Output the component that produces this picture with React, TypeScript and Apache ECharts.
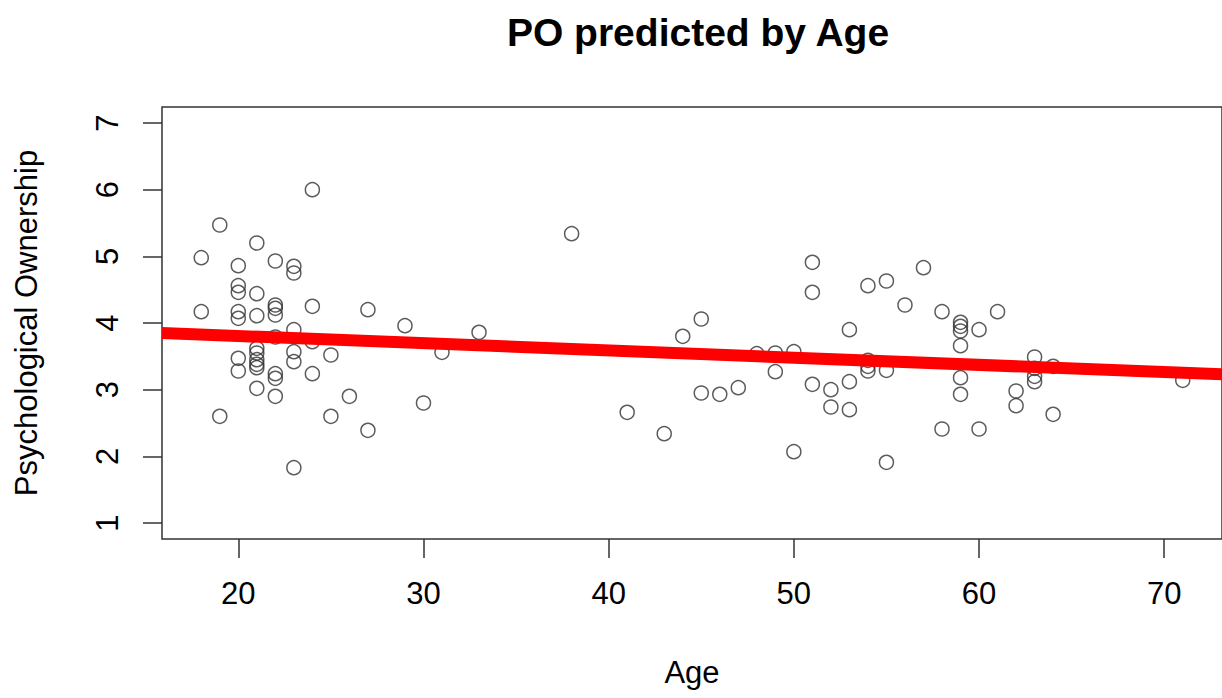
import React, { useEffect, useRef } from "react";
import * as echarts from "echarts";

const ages = [
  18, 18,
  19, 19,
  20, 20, 20, 20, 20, 20, 20,
  21, 21, 21, 21, 21, 21, 21, 21, 21,
  22, 22, 22, 22, 22, 22, 22, 22,
  23, 23, 23, 23, 23, 23,
  24, 24, 24, 24,
  25, 25,
  26,
  27, 27,
  29, 30, 31, 33, 38, 41, 43, 44,
  45, 45,
  46, 47, 48,
  49, 49,
  50, 50,
  51, 51, 51,
  52, 52,
  53, 53, 53,
  54, 54, 54, 54,
  55, 55, 55,
  56, 57,
  58, 58,
  59, 59, 59, 59, 59, 59,
  60, 60,
  61,
  62, 62,
  63, 63, 63, 63,
  64, 64,
  71,
];

const scores = [
  4.98, 4.17,
  5.47, 2.6,
  4.86, 4.56, 4.46, 4.17, 4.07, 3.47, 3.28,
  5.2, 4.44, 4.11, 3.62, 3.55, 3.45, 3.38, 3.33, 3.02,
  4.93, 4.27, 4.22, 4.12, 3.79, 3.24, 3.17, 2.9,
  4.85, 4.75, 3.9, 3.57, 3.42, 1.83,
  6.0, 4.25, 3.72, 3.24,
  3.52, 2.6,
  2.9,
  4.2, 2.39,
  3.96, 2.8, 3.56, 3.86, 5.34, 2.66, 2.34, 3.8,
  4.06, 2.95,
  2.93, 3.03, 3.54,
  3.55, 3.27,
  3.57, 2.07,
  4.91, 4.46, 3.08,
  3.0, 2.74,
  3.9, 3.12, 2.7,
  4.56, 3.44, 3.35, 3.28,
  4.63, 3.29, 1.91,
  4.27, 4.83,
  4.17, 2.41,
  4.01, 3.95, 3.88, 3.66, 3.18, 2.93,
  3.9, 2.41,
  4.17,
  2.98, 2.76,
  3.49, 3.32, 3.2, 3.12,
  3.35, 2.63,
  3.14,
];

const fitAges = [15.88, 73.12];
const fitScores = [3.85, 3.23];

const xTicks = [20, 30, 40, 50, 60, 70];
const yTicks = [1, 2, 3, 4, 5, 6, 7];

const FONT = "'Liberation Sans', Arial, sans-serif";

export default function App() {
  const ref = useRef<HTMLDivElement>(null);
  useEffect(() => {
    if (!ref.current) return;
    const chart = echarts.init(ref.current, null, { renderer: "svg" });
    chart.setOption({
      animation: false,
      backgroundColor: "#ffffff",
      title: {
        text: "PO predicted by Age",
        left: 693,
        top: 8,
        textAlign: "center",
        textStyle: { fontFamily: FONT, fontSize: 39, fontWeight: "bold", color: "#000" },
      },
      grid: {
        left: 162,
        top: 107,
        right: -3,
        bottom: 159,
        show: true,
        borderColor: "#333",
        borderWidth: 1.5,
        backgroundColor: "transparent",
      },
      xAxis: {
        type: "value",
        min: 15.88,
        max: 73.12,
        name: "Age",
        nameLocation: "middle",
        nameGap: 118,
        nameTextStyle: { fontFamily: FONT, fontSize: 31, color: "#000" },
        axisLine: { show: false },
        splitLine: { show: false },
        axisTick: {
          show: true,
          length: 19,
          customValues: xTicks,
          lineStyle: { color: "#333", width: 1.5 },
        },
        axisLabel: {
          customValues: xTicks,
          fontFamily: FONT,
          fontSize: 31,
          color: "#000",
          margin: 39,
        },
      },
      yAxis: {
        type: "value",
        min: 0.76,
        max: 7.24,
        name: "Psychological Ownership",
        nameLocation: "middle",
        nameGap: 120,
        nameTextStyle: { fontFamily: FONT, fontSize: 31, color: "#000" },
        axisLine: { show: false },
        splitLine: { show: false },
        axisTick: {
          show: true,
          length: 19,
          customValues: yTicks,
          lineStyle: { color: "#333", width: 1.5 },
        },
        axisLabel: {
          customValues: yTicks,
          rotate: 90,
          fontFamily: FONT,
          fontSize: 31,
          color: "#000",
          margin: 39,
        },
      },
      series: [
        {
          type: "scatter",
          data: ages.map((a, i) => [a, scores[i]]),
          symbol: "circle",
          symbolSize: 14,
          itemStyle: { color: "rgba(0,0,0,0)", borderColor: "#333", borderWidth: 1.5 },
          z: 2,
        },
        {
          type: "line",
          data: fitAges.map((a, i) => [a, fitScores[i]]),
          symbol: "none",
          lineStyle: { color: "#ff0000", width: 12 },
          z: 3,
        },
      ],
    });
    return () => chart.dispose();
  }, []);
  return (
    <div
      ref={ref}
      style={{ position: "fixed", left: 0, top: 0, width: 1222, height: 698 }}
    />
  );
}
